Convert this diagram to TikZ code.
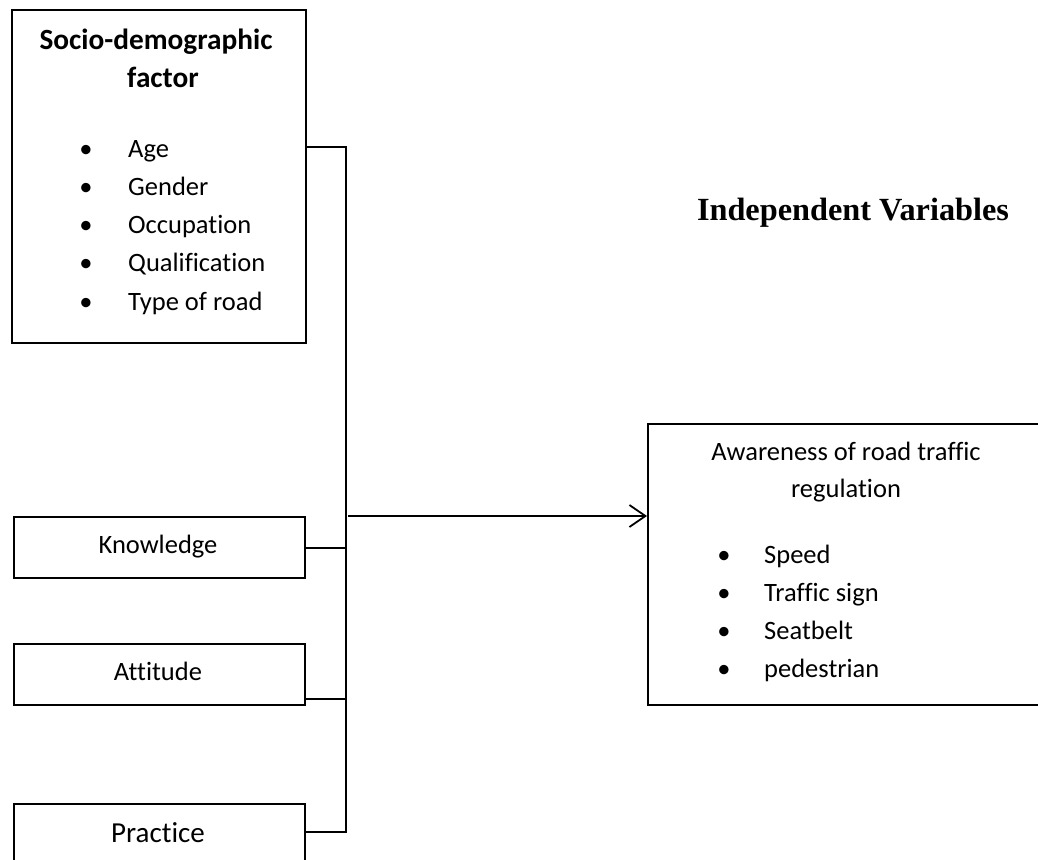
\documentclass[tikz,border=0pt]{standalone}
\usepackage{fontspec}
\setmainfont[Ligatures=NoCommon]{Carlito}
\newfontfamily\timesf{Liberation Serif}
\usetikzlibrary{arrows.meta}
\tikzset{
  box/.style={draw, line width=1.8pt, rectangle, inner sep=0pt, anchor=north west},
  txt/.style={inner sep=0pt, anchor=base, font=\fontsize{26.5}{30}\selectfont},
  itm/.style={inner sep=0pt, anchor=base west, font=\fontsize{26.5}{30}\selectfont},
  ttl/.style={inner sep=0pt, anchor=base, font=\fontsize{29.3}{33}\bfseries\selectfont},
  conn/.style={line width=1.8pt},
}
\begin{document}
\begin{tikzpicture}[x=1pt,y=-1pt]
\useasboundingbox (0,0) rectangle (1038,859);
\clip (0,0) rectangle (1038,859);
\fill[white] (0,0) rectangle (1038,859);

% boxes
\node[box, minimum width=294pt, minimum height=333pt] (socio) at (11,9) {};
\node[box, minimum width=291pt, minimum height=61pt] (know) at (13,516) {};
\node[box, minimum width=291pt, minimum height=61pt] (att) at (13,643) {};
\node[box, minimum width=291pt, minimum height=120pt] (prac) at (13,803) {};
\node[box, minimum width=450pt, minimum height=281pt] (aware) at (647,423) {};

% socio-demographic text
\node[ttl] (s1) at (156,50) {Socio-demographic};
\node[ttl] (s2) at (163,88) {factor};
\node[txt] (b1) at (86,157) {•};
\node[txt] (b2) at (86,195.3) {•};
\node[txt] (b3) at (86,233.6) {•};
\node[txt] (b4) at (86,271.9) {•};
\node[txt] (b5) at (86,310.2) {•};
\node[itm] (i1) at (128,157) {Age};
\node[itm] (i2) at (128,195.3) {Gender};
\node[itm] (i3) at (128,233.6) {Occupation};
\node[itm] (i4) at (128,271.9) {Qualification};
\node[itm] (i5) at (128,310.2) {Type of road};

% small boxes text
\node[txt] (kt) at (158,553) {Knowledge};
\node[txt] (at) at (158,680) {Attitude};
\node[txt, font=\fontsize{29}{32}\selectfont] (pt) at (158,842) {Practice};

% awareness text
\node[txt] (a1) at (846,460) {Awareness of road traffic};
\node[txt] (a2) at (846,497) {regulation};
\node[txt] (c1) at (724,563) {•};
\node[txt] (c2) at (724,601) {•};
\node[txt] (c3) at (724,639) {•};
\node[txt] (c4) at (724,677) {•};
\node[itm] (r1) at (764,563) {Speed};
\node[itm] (r2) at (764,601) {Traffic sign};
\node[itm] (r3) at (764,639) {Seatbelt};
\node[itm] (r4) at (764,677) {pedestrian};

% heading
\node[txt, font=\fontsize{32.3}{36}\timesf\bfseries\selectfont] (iv) at (853,220) {Independent Variables};

% connectors
\coordinate (top) at (346,147);
\coordinate (bot) at (346,832);
\coordinate (kj) at (346,548);
\coordinate (aj) at (346,699);
\coordinate (ar) at (348,516);
\draw[conn] (socio.east |- top) -- (top) -- (bot) -- (prac.east |- bot);
\draw[conn] (know.east |- kj) -- (kj);
\draw[conn] (att.east |- aj) -- (aj);
\draw[conn, -{Straight Barb[length=16pt,width=22pt,line width=1.8pt]}] (ar) -- (aware.west |- ar);
\end{tikzpicture}
\end{document}
